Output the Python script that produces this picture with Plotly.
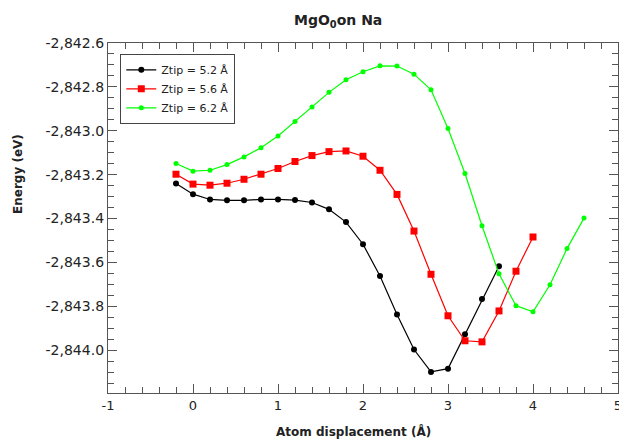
import plotly.graph_objects as go

# Tip-height scans: total energy vs. atom displacement
disp_52 = [-0.2, 0.0, 0.2, 0.4, 0.6, 0.8, 1.0, 1.2, 1.4, 1.6, 1.8, 2.0, 2.2, 2.4, 2.6, 2.8, 3.0, 3.2, 3.4, 3.6]
energy_52 = [-2843.240, -2843.289, -2843.313, -2843.317, -2843.317, -2843.313, -2843.313, -2843.316,
             -2843.327, -2843.358, -2843.416, -2843.517, -2843.662, -2843.837, -2843.997, -2844.099,
             -2844.084, -2843.927, -2843.767, -2843.617]

disp_56 = [-0.2, 0.0, 0.2, 0.4, 0.6, 0.8, 1.0, 1.2, 1.4, 1.6, 1.8, 2.0, 2.2, 2.4, 2.6, 2.8, 3.0, 3.2, 3.4, 3.6, 3.8, 4.0]
energy_56 = [-2843.198, -2843.243, -2843.248, -2843.239, -2843.221, -2843.198, -2843.172, -2843.140,
             -2843.113, -2843.095, -2843.092, -2843.116, -2843.180, -2843.290, -2843.457, -2843.654,
             -2843.843, -2843.957, -2843.962, -2843.821, -2843.640, -2843.484]

disp_62 = [-0.2, 0.0, 0.2, 0.4, 0.6, 0.8, 1.0, 1.2, 1.4, 1.6, 1.8, 2.0, 2.2, 2.4, 2.6, 2.8, 3.0, 3.2, 3.4, 3.6,
           3.8, 4.0, 4.2, 4.4, 4.6]
energy_62 = [-2843.149, -2843.184, -2843.180, -2843.154, -2843.119, -2843.077, -2843.024, -2842.958,
             -2842.892, -2842.825, -2842.767, -2842.731, -2842.704, -2842.705, -2842.742, -2842.813,
             -2842.990, -2843.195, -2843.433, -2843.652, -2843.797, -2843.825, -2843.702, -2843.537,
             -2843.398]

series_names = ["Ztip = 5.2 Å", "Ztip = 5.6 Å", "Ztip = 6.2 Å"]

x_tickvals = [-1, 0, 1, 2, 3, 4, 5]
x_ticktext = ["-1", "0", "1", "2", "3", "4", "5"]
y_tickvals = [-2842.6, -2842.8, -2843.0, -2843.2, -2843.4, -2843.6, -2843.8, -2844.0]
y_ticktext = ["-2,842.6", "-2,842.8", "-2,843.0", "-2,843.2", "-2,843.4", "-2,843.6", "-2,843.8", "-2,844.0"]

FONT = "DejaVu Sans"
AXIS_COLOR = "#555555"
TEXT_COLOR = "#222222"

fig = go.Figure()
fig.add_trace(go.Scatter(x=disp_52, y=energy_52, name=series_names[0], mode="lines+markers",
                         line=dict(color="#000000", width=1.2),
                         marker=dict(symbol="circle", size=6, color="#000000")))
fig.add_trace(go.Scatter(x=disp_56, y=energy_56, name=series_names[1], mode="lines+markers",
                         line=dict(color="#ff0000", width=1.2),
                         marker=dict(symbol="square", size=7, color="#ff0000")))
fig.add_trace(go.Scatter(x=disp_62, y=energy_62, name=series_names[2], mode="lines+markers",
                         line=dict(color="#00ff00", width=1.2),
                         marker=dict(symbol="circle", size=5, color="#00ff00")))

axis_common = dict(
    showline=True, linecolor=AXIS_COLOR, linewidth=1.3, mirror="allticks",
    ticks="inside", ticklen=9, tickwidth=1.3, tickcolor=AXIS_COLOR,
    showgrid=False, zeroline=False, ticklabeloverflow="allow", automargin=False,
)

fig.update_xaxes(
    range=[-1, 5], tickmode="array", tickvals=x_tickvals, ticktext=x_ticktext,
    tickfont=dict(family=FONT, size=13, color=TEXT_COLOR),
    minor=dict(ticks="inside", ticklen=6, tickwidth=1.3, tickcolor=AXIS_COLOR, dtick=0.2, showgrid=False),
    **axis_common,
)
fig.update_yaxes(
    range=[-2844.195, -2842.6], tickmode="array", tickvals=y_tickvals, ticktext=y_ticktext,
    tickfont=dict(family=FONT, size=14, color=TEXT_COLOR),
    minor=dict(ticks="inside", ticklen=6, tickwidth=1.3, tickcolor=AXIS_COLOR, dtick=0.05, showgrid=False),
    **axis_common,
)

fig.add_annotation(text="<b>MgO<sub>0</sub>on Na</b>", xref="paper", yref="paper",
                   x=0.451, y=1.063, xanchor="center", yanchor="middle", showarrow=False,
                   font=dict(family=FONT, size=14, color=TEXT_COLOR))
fig.add_annotation(text="<b>Atom displacement (Å)</b>", xref="paper", yref="paper",
                   x=0.482, y=-0.1106, xanchor="center", yanchor="middle", showarrow=False,
                   font=dict(family=FONT, size=12, color=TEXT_COLOR))
fig.add_annotation(text="<b>Energy (eV)</b>", xref="paper", yref="paper", textangle=-90,
                   x=-0.1765, y=0.6257, xanchor="center", yanchor="middle", showarrow=False,
                   font=dict(family=FONT, size=12, color=TEXT_COLOR))

fig.update_layout(
    width=619, height=440,
    margin=dict(l=108, r=1, t=43, b=47, autoexpand=False),
    paper_bgcolor="white", plot_bgcolor="white",
    font=dict(family=FONT, color=TEXT_COLOR),
    showlegend=True,
    legend=dict(x=0.0235, y=0.9686, xanchor="left", yanchor="top",
                bgcolor="white", bordercolor="#444444", borderwidth=1.3,
                font=dict(family=FONT, size=11, color=TEXT_COLOR),
                itemwidth=30, tracegroupgap=0),
)

fig.write_html("out.html")
